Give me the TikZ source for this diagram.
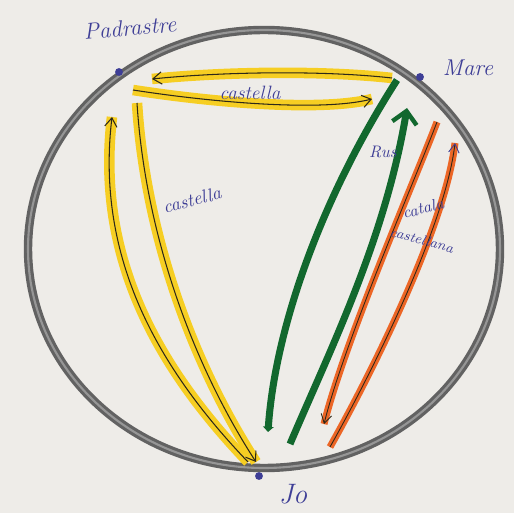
\documentclass[tikz,border=0pt]{standalone}
\usetikzlibrary{arrows.meta}

\definecolor{paper}{RGB}{238,236,232}
\definecolor{inkblue}{RGB}{62,62,150}
\definecolor{ringgray}{RGB}{98,98,98}
\definecolor{ringlight}{RGB}{150,150,150}
\definecolor{marker}{RGB}{246,206,35}
\definecolor{pen}{RGB}{45,40,25}
\definecolor{greenmark}{RGB}{18,104,46}
\definecolor{orangemark}{RGB}{236,102,38}

\begin{document}
\begin{tikzpicture}[x=0.02cm, y=-0.02cm,
    dot/.style={circle, fill=inkblue, inner sep=0pt, minimum size=4.5pt},
    hand/.style={text=inkblue, inner sep=0pt},
    yellowline/.style={draw=pen, line width=0.6pt, -{Straight Barb[length=5pt,width=7pt]},
        preaction={draw=marker, line width=6pt, arrows=-}},
    greenline/.style={draw=greenmark, line width=4pt},
    orangeline/.style={draw=pen, line width=0.5pt, -{Straight Barb[length=5pt,width=6pt]},
        preaction={draw=orangemark, line width=4pt, arrows=-}}]

    % Paper
    \fill[paper] (0,0) rectangle (514,513);
    \useasboundingbox (0,0) rectangle (514,513);

    % Ring
    \draw[ringgray, line width=4.8pt] (264,249) ellipse [x radius=236, y radius=219];
    \draw[ringlight, line width=1.2pt] (264,249) ellipse [x radius=236, y radius=219];

    % People
    \node[dot] (padrastre) at (119,72) {};
    \node[dot] (mare) at (420,77) {};
    \node[dot] (jo) at (259,476) {};
    \node[hand, font=\itshape\fontsize{13}{15}\selectfont, rotate=5] (padrastreText) at (130,28) {Padrastre};
    \node[hand, font=\itshape\fontsize{13}{15}\selectfont] (mareText) at (468,68) {Mare};
    \node[hand, font=\itshape\fontsize{16}{18}\selectfont] (joText) at (293,494) {Jo};

    % End points of the arrows
    \coordinate (yTopR) at (392,78);
    \coordinate (yTopL) at (152,79);
    \coordinate (yMidL) at (133,90);
    \coordinate (yMidR) at (372,99);
    \coordinate (yLeftB) at (248,462);
    \coordinate (yLeftT) at (112,117);
    \coordinate (yRightT) at (137,103);
    \coordinate (yRightB) at (256,462);
    \coordinate (gLeftT) at (397,80);
    \coordinate (gLeftB) at (268,432);
    \coordinate (gRightB) at (290,444);
    \coordinate (gRightT) at (407,108);
    \coordinate (oLeftT) at (437,122);
    \coordinate (oLeftB) at (324,424);
    \coordinate (oRightB) at (330,447);
    \coordinate (oRightT) at (455,143);

    % Yellow: castella
    \draw[yellowline] (yTopR) .. controls (320,70) and (220,72) .. (yTopL);
    \draw[yellowline] (yMidL) .. controls (210,102) and (320,112) .. (yMidR);
    \draw[yellowline] (yLeftB) .. controls (160,370) and (95,260) .. (yLeftT);
    \draw[yellowline] (yRightT) .. controls (145,230) and (190,360) .. (yRightB);
    \node[hand, font=\itshape\fontsize{11}{13}\selectfont] (castellaTop) at (250,93) {castella};
    \node[hand, font=\itshape\fontsize{10.5}{12}\selectfont, rotate=15] (castellaLeft) at (192,200) {castella};

    % Green: Rus
    \draw[greenline, -{Triangle[length=3pt,width=6pt]}] (gLeftT) .. controls (320,200) and (275,330) .. (gLeftB);
    \draw[greenline, -{Straight Barb[length=7pt,width=14pt,line width=2.5pt]}] (gRightB) .. controls (330,350) and (385,240) .. (gRightT);
    \node[hand, font=\itshape\fontsize{9.5}{11}\selectfont] (rusText) at (383,152) {Rus};

    % Orange: catala / castellana
    \draw[orangeline] (oLeftT) .. controls (415,180) and (345,340) .. (oLeftB);
    \draw[orangeline, -{Straight Barb[length=5pt,width=6pt,color=inkblue]}] (oRightB) .. controls (365,385) and (445,230) .. (oRightT);
    \node[hand, font=\itshape\fontsize{9.2}{11}\selectfont, rotate=15] (catalaText) at (423,208) {catala};
    \node[hand, font=\itshape\fontsize{8}{10}\selectfont, rotate=-15] (castellanaText) at (422,240) {castellana};

\end{tikzpicture}
\end{document}
